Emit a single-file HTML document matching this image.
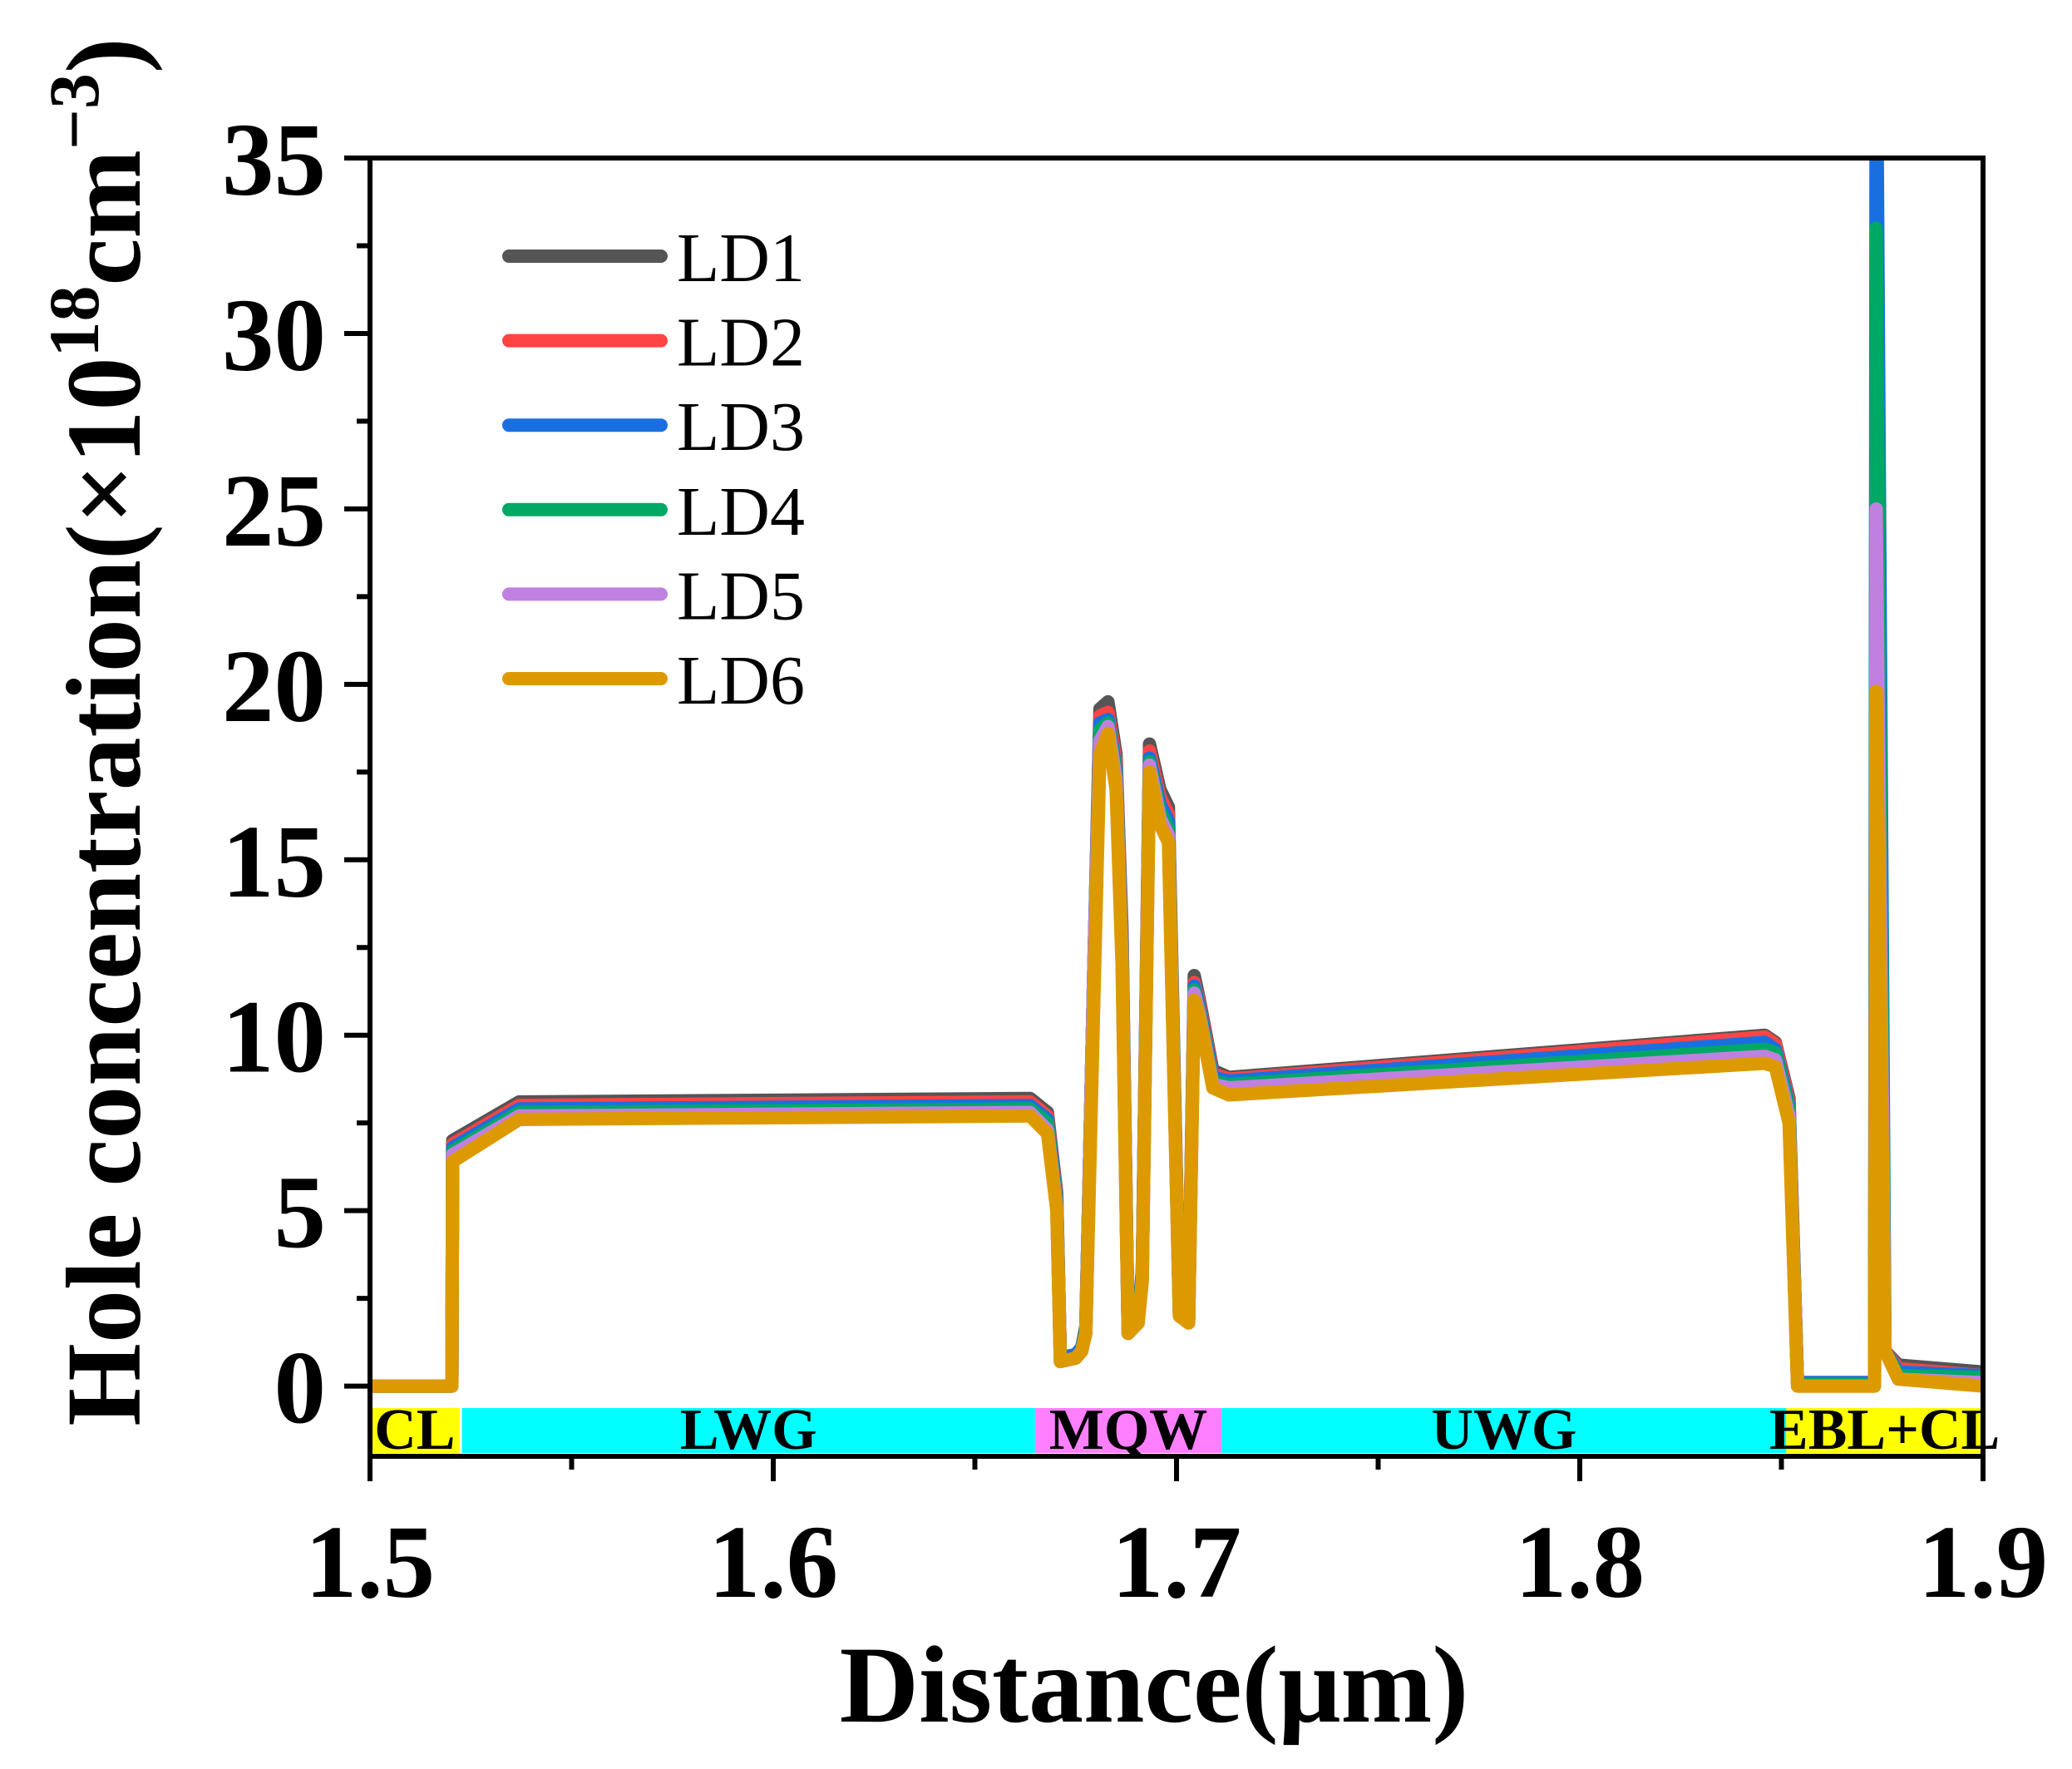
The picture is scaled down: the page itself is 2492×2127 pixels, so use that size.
<!DOCTYPE html>
<html><head><meta charset="utf-8"><style>
html,body{margin:0;padding:0;background:#fff;}
svg{display:block;font-family:"Liberation Serif",serif;}
</style></head><body>
<svg id="chart" width="2492" height="2127" viewBox="0 0 2492 2127" xmlns="http://www.w3.org/2000/svg">
<defs><clipPath id="clip"><rect x="445" y="190" width="1940" height="1561"/></clipPath></defs>
<g id="bands"></g>
<g id="series" clip-path="url(#clip)"></g>
<g id="axes"></g>
<g id="legend"></g>
<text x="1388" y="2070" text-anchor="middle" font-size="132" font-weight="bold">Distance(μm)</text>
<text transform="translate(168,880) rotate(-90)" text-anchor="middle" font-size="128" font-weight="bold">Hole concentration(×10<tspan dy="-50" font-size="86">18</tspan><tspan dy="50">cm</tspan><tspan dy="-50" font-size="86">−3</tspan><tspan dy="50">)</tspan></text>
</svg>
<script>
const xTicks = [1.5, 1.6, 1.7, 1.8, 1.9];
const yTicks = [0, 5, 10, 15, 20, 25, 30, 35];
const seriesNames = ["LD1","LD2","LD3","LD4","LD5","LD6"];
const seriesColors = ["#555555","#ff4444","#1a6fe0","#00a865","#c080e0","#dd9a00"];
const xs = [1.5,1.5203,1.5205,1.537,1.6637,1.668,1.6703,1.6712,1.675,1.6765,1.6775,1.6795,1.681,1.683,1.685,1.6865,1.688,1.6905,1.6915,1.6933,1.6959,1.698,1.7007,1.703,1.7044,1.7057,1.709,1.713,1.8459,1.8485,1.8519,1.854,1.8731,1.8735,1.8757,1.879,1.9];
const ld1 = [0,0,7.0,8.1,8.2,7.8,5.5,0.8,0.9,1.1,1.7,12,19.3,19.5,18,13,1.6,2,3.3,18.3,17,16.5,2.2,2,11.7,11,9,8.8,10.0,9.8,8.2,0.1,0.1,20,1,0.6,0.4];
const ld2 = [0,0,6.9,8.0,8.1,7.7,5.4,0.8,0.9,1.1,1.6,12,19.1,19.2,17.8,12.8,1.6,1.9,3.2,18.1,16.8,16.3,2.1,1.9,11.5,10.9,8.9,8.75,9.95,9.75,8.1,0.1,0.1,20,1,0.5,0.3];
const ld3 = [0,0,6.8,7.9,8.0,7.6,5.3,0.8,0.9,1.1,1.6,12,18.9,19.0,17.6,12.6,1.6,1.9,3.2,17.9,16.6,16.1,2.1,1.9,11.4,10.8,8.8,8.7,9.8,9.6,8.0,0.1,0.1,40,1,0.4,0.3];
const ld4 = [0,0,6.7,7.8,7.9,7.5,5.2,0.7,0.8,1.0,1.6,12,18.7,18.9,17.5,12.4,1.5,1.9,3.1,17.8,16.4,15.9,2.1,1.9,11.3,10.7,8.7,8.6,9.6,9.5,7.9,0.05,0.05,33,1,0.3,0.25];
const ld5 = [0,0,6.6,7.7,7.8,7.3,5.1,0.7,0.8,1.0,1.5,12,18.4,18.8,17.3,12.2,1.5,1.8,3.0,17.7,16.2,15.7,2.0,1.8,11.2,10.6,8.6,8.5,9.4,9.3,7.7,0,0,25,1,0.2,0.1];
const ld6 = [0,0,6.4,7.6,7.7,7.2,5.0,0.7,0.8,1.0,1.5,11,18.0,18.6,17.0,12.0,1.5,1.8,3.0,17.5,16.0,15.5,2.0,1.8,11.0,10.5,8.5,8.3,9.2,9.1,7.5,0,0,19.8,1,0.2,0];
const allSeries = [ld1,ld2,ld3,ld4,ld5,ld6];
const bandNames = ["CL","LWG","MQW","UWG","EBL+CL"];
const bandStarts = [1.5,1.5228,1.6649,1.7112,1.8512];
const bandEnds = [1.5222,1.6649,1.7112,1.8512,1.9];
const bandColors = ["#ffff00","#00ffff","#ff80ff","#00ffff","#ffff00"];

const NS="http://www.w3.org/2000/svg";
const X0=445,X1=2385,Y0v=-2,Y1v=35,PY0=1751,PY1=190;
const sx=v=>X0+(v-1.5)/(0.4)*(X1-X0);
const sy=v=>PY0+(v-Y0v)/(Y1v-Y0v)*(PY1-PY0);
function mk(tag,attrs,parent){const e=document.createElementNS(NS,tag);for(const k in attrs)e.setAttribute(k,attrs[k]);parent.appendChild(e);return e;}

const bands=document.getElementById('bands');
bandNames.forEach((n,i)=>{
  const r=mk('rect',{x:sx(bandStarts[i]),y:1693,width:sx(bandEnds[i])-sx(bandStarts[i]),height:54,fill:bandColors[i]},bands);
  
  
  const t=mk('text',{x:(sx(bandStarts[i])+sx(bandEnds[i]))/2,y:1742,'text-anchor':'middle','font-size':'70','font-weight':'bold'},bands);
  t.textContent=n;
  
  
});

const sg=document.getElementById('series');
allSeries.forEach((ys,i)=>{
  const d=xs.map((x,j)=>(j?'L':'M')+sx(x).toFixed(1)+' '+sy(ys[j]).toFixed(1)).join(' ');
  const p=mk('path',{d:d,fill:'none',stroke:seriesColors[i],'stroke-width':'16','stroke-linejoin':'round','stroke-linecap':'round'},sg);
  
  
});

const ax=document.getElementById('axes');
const frame=mk('rect',{x:X0,y:PY1,width:X1-X0,height:PY0-PY1,fill:'none',stroke:'#000','stroke-width':'6'},ax);


yTicks.forEach(v=>{
  const l=mk('line',{x1:X0-31,x2:X0,y1:sy(v),y2:sy(v),stroke:'#000','stroke-width':'6'},ax);
  
  
  const t=mk('text',{x:392,y:sy(v)+44,'text-anchor':'end','font-size':'125','font-weight':'bold'},ax);
  t.textContent=v;
  
  
  if(v<35){
    const m=mk('line',{x1:X0-16,x2:X0,y1:sy(v+2.5),y2:sy(v+2.5),stroke:'#000','stroke-width':'6'},ax);
    
    
  }
});
xTicks.forEach((v,i)=>{
  const l=mk('line',{x1:sx(v),x2:sx(v),y1:PY0,y2:PY0+30,stroke:'#000','stroke-width':'6'},ax);
  
  
  const t=mk('text',{x:sx(v),y:1920,'text-anchor':'middle','font-size':'125','font-weight':'bold'},ax);
  t.textContent=v.toFixed(1);
  
  
  if(i<xTicks.length-1){
    const m=mk('line',{x1:sx(v+0.05),x2:sx(v+0.05),y1:PY0,y2:PY0+16,stroke:'#000','stroke-width':'6'},ax);
    
    
  }
});

const lg=document.getElementById('legend');
seriesNames.forEach((n,i)=>{
  const y=308+i*101.6;
  const l=mk('line',{x1:612,x2:795,y1:y,y2:y,stroke:seriesColors[i],'stroke-width':'16','stroke-linecap':'round'},lg);
  
  
  const t=mk('text',{x:814,y:y+30,'font-size':'84'},lg);
  t.textContent=n;
  
  
});
</script>
</body></html>
